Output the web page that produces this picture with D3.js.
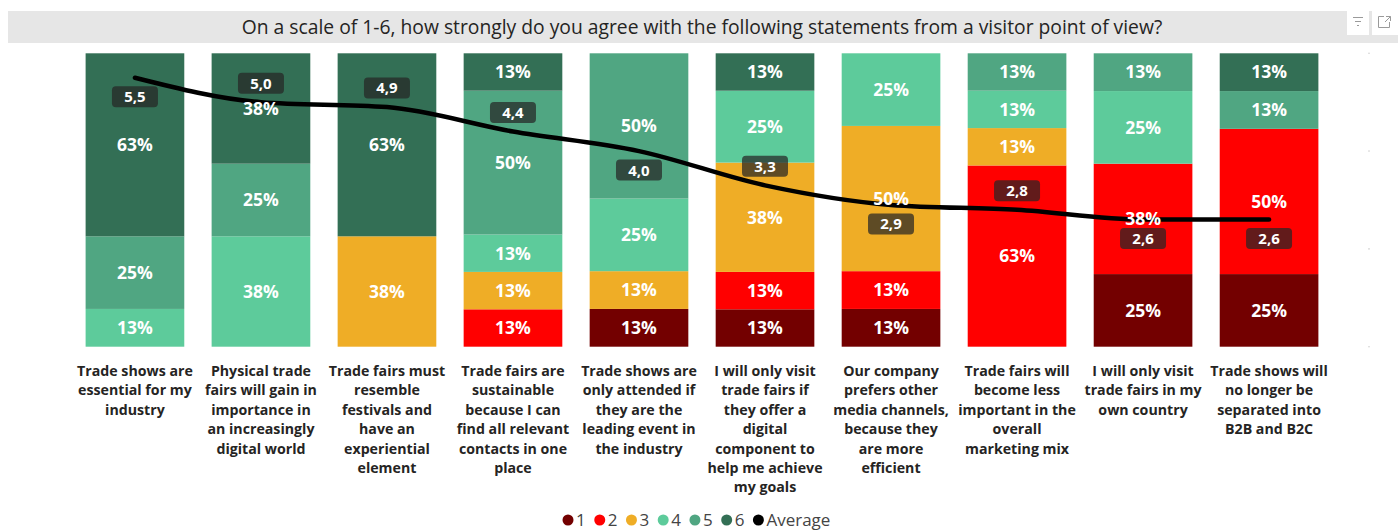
<!DOCTYPE html>
<html>
<head>
<meta charset="utf-8">
<script src="https://cdn.jsdelivr.net/npm/d3@7/dist/d3.min.js"></script>
<style>
  html, body { margin: 0; padding: 0; background: #ffffff; }
  svg { display: block; font-family: "Segoe UI", "Open Sans", "Noto Sans", sans-serif; }
</style>
</head>
<body>
<svg id="chart" width="1398" height="531"></svg>
<script>
// Survey statements (line breaks as shown under each bar)
const categories = [
  "Trade shows are\nessential for my\nindustry",
  "Physical trade\nfairs will gain in\nimportance in\nan increasingly\ndigital world",
  "Trade fairs must\nresemble\nfestivals and\nhave an\nexperiential\nelement",
  "Trade fairs are\nsustainable\nbecause I can\nfind all relevant\ncontacts in one\nplace",
  "Trade shows are\nonly attended if\nthey are the\nleading event in\nthe industry",
  "I will only visit\ntrade fairs if\nthey offer a\ndigital\ncomponent to\nhelp me achieve\nmy goals",
  "Our company\nprefers other\nmedia channels,\nbecause they\nare more\nefficient",
  "Trade fairs will\nbecome less\nimportant in the\noverall\nmarketing mix",
  "I will only visit\ntrade fairs in my\nown country",
  "Trade shows will\nno longer be\nseparated into\nB2B and B2C"
];

// Share of answers (%) per rating, one array per rating level
const rating1 = [0, 0, 0, 0, 13, 13, 13, 0, 25, 25];
const rating2 = [0, 0, 0, 13, 0, 13, 13, 63, 38, 50];
const rating3 = [0, 0, 38, 13, 13, 38, 50, 13, 0, 0];
const rating4 = [13, 38, 0, 13, 25, 25, 25, 13, 25, 0];
const rating5 = [25, 25, 0, 50, 50, 0, 0, 13, 13, 13];
const rating6 = [63, 38, 63, 13, 0, 13, 0, 0, 0, 13];

// Average rating per statement (scale 1-6)
const averages = [5.5, 5.0, 4.9, 4.4, 4.0, 3.3, 2.9, 2.8, 2.6, 2.6];

const levelNames = ["1", "2", "3", "4", "5", "6"];
const levelValues = [rating1, rating2, rating3, rating4, rating5, rating6];
const levelColors = ["#730000", "#ff0000", "#efad26", "#5dcb9b", "#50a682", "#336f55"];

// Which side of the line each average label sits on (1 = below, -1 = above)
const avgLabelSide = [1, -1, -1, -1, 1, -1, 1, -1, 1, 1];

const svg = d3.select("#chart");

// ---- Title bar ----
svg.append("rect").attr("x", 8).attr("y", 11).attr("width", 1390).attr("height", 32).attr("fill", "#e6e6e6");
svg.append("text")
  .attr("x", 702).attr("y", 34)
  .attr("text-anchor", "middle")
  .attr("font-size", 19.3)
  .attr("fill", "#252423")
  .text("On a scale of 1-6, how strongly do you agree with the following statements from a visitor point of view?");

// header icons (filter / focus mode)
const icons = svg.append("g");
icons.append("rect").attr("x", 1347).attr("y", 8).attr("width", 22).attr("height", 27).attr("fill", "#ffffff");
icons.append("rect").attr("x", 1372).attr("y", 8).attr("width", 26).attr("height", 27).attr("fill", "#ffffff");
const fi = icons.append("g").attr("stroke", "#9a9a9a").attr("stroke-width", 1).attr("fill", "none");
fi.append("line").attr("x1", 1353).attr("x2", 1363).attr("y1", 17.5).attr("y2", 17.5);
fi.append("line").attr("x1", 1355).attr("x2", 1361).attr("y1", 21.5).attr("y2", 21.5);
fi.append("line").attr("x1", 1357).attr("x2", 1359).attr("y1", 25.5).attr("y2", 25.5);
const fo = icons.append("g").attr("stroke", "#9a9a9a").attr("stroke-width", 1).attr("fill", "none");
fo.append("path").attr("d", "M1384,16.5 H1378.5 V27.5 H1389.5 V22");
fo.append("path").attr("d", "M1386,16.5 H1390.5 V21 M1390.5,16.5 L1385,22");

// ---- Scales ----
const x = d3.scaleBand()
  .domain(d3.range(categories.length))
  .range([72, 1332])
  .paddingInner(0.217)
  .paddingOuter(0.108);

const y = d3.scaleLinear().domain([0, 1]).range([346.7, 53.3]);
const yAvg = d3.scaleLinear().domain([0, 6]).range([346.7, 53.3]);

// faint markers of the hidden secondary axis
svg.append("g").selectAll("circle")
  .data(yAvg.ticks(3))
  .join("circle")
  .attr("cx", 1369).attr("cy", d => yAvg(d)).attr("r", 0.8)
  .attr("fill", "#d0d0d0");

// ---- 100% stacked bars ----
const rows = categories.map((c, i) => {
  const r = { idx: i };
  levelNames.forEach((n, k) => { r[n] = levelValues[k][i]; });
  r.total = d3.sum(levelValues, v => v[i]);
  return r;
});

const stack = d3.stack()
  .keys(levelNames)
  .value((d, key) => d[key] / d.total);
const series = stack(rows);

const barG = svg.append("g");
series.forEach((s, k) => {
  barG.append("g")
    .attr("fill", levelColors[k])
    .selectAll("rect")
    .data(s.filter(d => d[1] - d[0] > 0))
    .join("rect")
    .attr("x", d => x(d.data.idx))
    .attr("width", x.bandwidth())
    .attr("y", d => y(d[1]))
    .attr("height", d => y(d[0]) - y(d[1]));
});

// ---- Average line ----
const line = d3.line()
  .x((d, i) => x(i) + x.bandwidth() / 2)
  .y(d => yAvg(d))
  .curve(d3.curveMonotoneX);

svg.append("path")
  .datum(averages)
  .attr("d", line)
  .attr("fill", "none")
  .attr("stroke", "#000000")
  .attr("stroke-width", 4.5)
  .attr("stroke-linecap", "round");

// ---- Segment labels ----
const segLabels = svg.append("g")
  .attr("font-size", 17.5)
  .attr("font-weight", 700)
  .attr("fill", "#ffffff")
  .attr("text-anchor", "middle");
series.forEach((s, k) => {
  segLabels.append("g")
    .selectAll("text")
    .data(s.filter(d => d[1] - d[0] > 0))
    .join("text")
    .attr("x", d => x(d.data.idx) + x.bandwidth() / 2)
    .attr("y", d => (y(d[0]) + y(d[1])) / 2)
    .attr("dy", "0.36em")
    .text(d => d.data[s.key] + "%");
});

// ---- Average labels ----
const fmtAvg = d => d3.format(".1f")(d).replace(".", ",");
const avgG = svg.append("g");
averages.forEach((v, i) => {
  const cx = x(i) + x.bandwidth() / 2;
  const cy = yAvg(v) + avgLabelSide[i] * 19;
  avgG.append("rect")
    .attr("x", cx - 23).attr("y", cy - 10.5)
    .attr("width", 46).attr("height", 21)
    .attr("rx", 4)
    .attr("fill", "#262626")
    .attr("fill-opacity", 0.72);
  avgG.append("text")
    .attr("x", cx).attr("y", cy)
    .attr("dy", "0.36em")
    .attr("text-anchor", "middle")
    .attr("font-size", 15)
    .attr("font-weight", 700)
    .attr("fill", "#ffffff")
    .text(fmtAvg(v));
});

// ---- Category labels ----
const catG = svg.append("g")
  .attr("font-size", 14.2)
  .attr("font-weight", 700)
  .attr("fill", "#252423")
  .attr("text-anchor", "middle");
categories.forEach((c, i) => {
  const t = catG.append("text")
    .attr("x", x(i) + x.bandwidth() / 2)
    .attr("y", 376);
  c.split("\n").forEach((ln, j) => {
    t.append("tspan")
      .attr("x", x(i) + x.bandwidth() / 2)
      .attr("y", 376 + j * 19.4)
      .text(ln);
  });
});

// ---- Legend ----
const legendItems = levelNames.map((n, k) => ({ name: n, color: levelColors[k] }))
  .concat([{ name: "Average", color: "#000000" }]);
const legend = svg.append("g").attr("font-size", 17).attr("fill", "#444444");
let lx = 568;
legendItems.forEach(it => {
  legend.append("circle").attr("cx", lx).attr("cy", 520).attr("r", 5.5).attr("fill", it.color);
  const t = legend.append("text").attr("x", lx + 8).attr("y", 520).attr("dy", "0.35em").text(it.name);
  lx += 8 + t.node().getComputedTextLength() + 14;
});
</script>
</body>
</html>
